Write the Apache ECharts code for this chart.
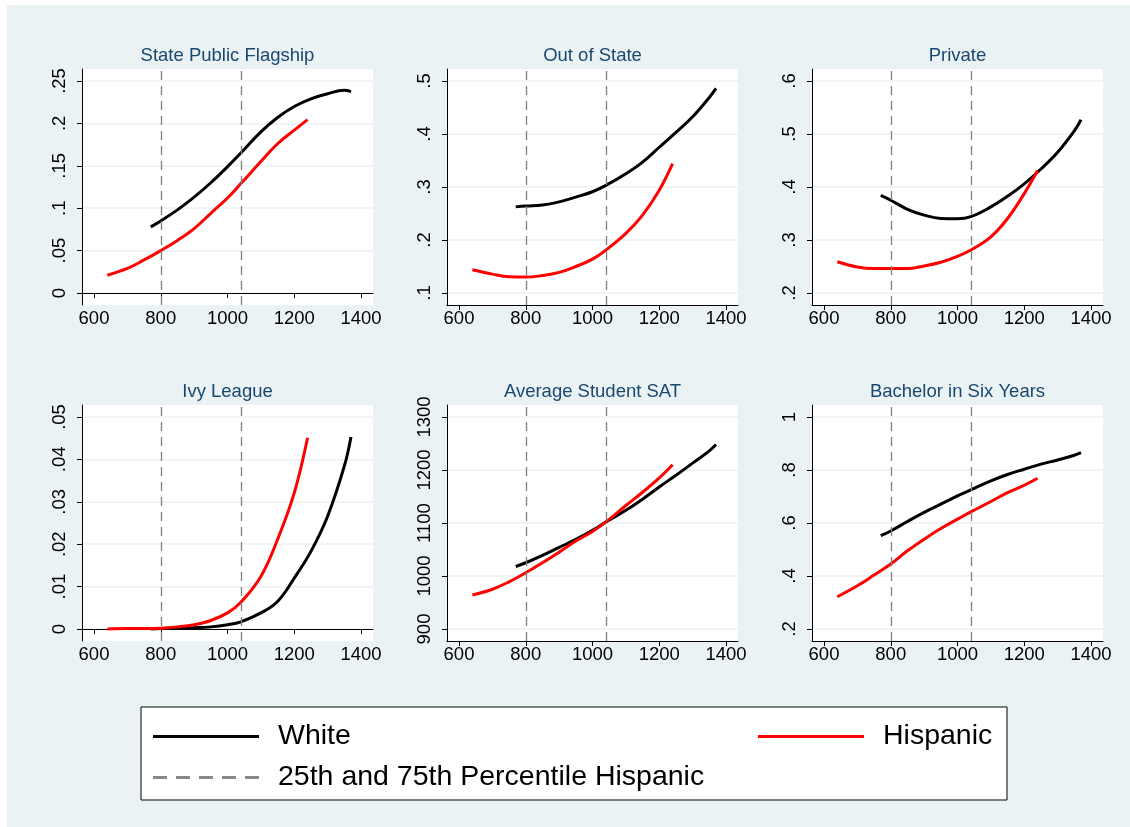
<!DOCTYPE html>
<html>
<head>
<meta charset="utf-8">
<script src="https://cdn.jsdelivr.net/npm/echarts@6/dist/echarts.min.js"></script>
<style>
  html, body { margin: 0; padding: 0; background: #fff; }
  #bg { position: absolute; left: 7px; top: 5px; right: 0; bottom: 0; background: #EAF2F3; }
  #chart { position: absolute; left: 0; top: 0; width: 1130px; height: 827px; }
</style>
</head>
<body>
<div id="bg"></div>
<div id="chart"></div>
<script>
// SAT score grid for each group
const whiteX = [770, 800, 850, 900, 950, 1000, 1040, 1100, 1150, 1200, 1250, 1300, 1350, 1370];
const hispX = [640, 700, 750, 800, 850, 900, 950, 1000, 1040, 1100, 1150, 1200, 1240];
const pctX = [800, 1040];
const xTicks = [600, 800, 1000, 1200, 1400];

const titles = ["State Public Flagship", "Out of State", "Private", "Ivy League", "Average Student SAT", "Bachelor in Six Years"];

const flagshipWhite = [0.078, 0.085, 0.098, 0.113, 0.130, 0.149, 0.165, 0.190, 0.207, 0.220, 0.229, 0.235, 0.239, 0.2375];
const flagshipHisp = [0.021, 0.029, 0.039, 0.050, 0.062, 0.076, 0.094, 0.112, 0.129, 0.155, 0.176, 0.192, 0.2045];
const outStateWhite = [0.2625, 0.264, 0.266, 0.272, 0.281, 0.291, 0.303, 0.325, 0.347, 0.375, 0.403, 0.4325, 0.469, 0.486];
const outStateHisp = [0.144, 0.1356, 0.1306, 0.130, 0.133, 0.139, 0.150, 0.164, 0.181, 0.2125, 0.247, 0.294, 0.344];
const privateWhite = [0.384, 0.375, 0.358, 0.347, 0.3406, 0.340, 0.344, 0.3625, 0.3825, 0.406, 0.434, 0.4656, 0.506, 0.527];
const privateHisp = [0.259, 0.249, 0.246, 0.246, 0.246, 0.251, 0.258, 0.269, 0.281, 0.306, 0.3406, 0.3875, 0.431];
const ivyWhite = [0, 0.0001, 0.0002, 0.0003, 0.0005, 0.001, 0.0017, 0.0038, 0.0065, 0.012, 0.0183, 0.0266, 0.0384, 0.0453];
const ivyHisp = [0, 0.0001, 0.0001, 0.0002, 0.0005, 0.001, 0.002, 0.0038, 0.0063, 0.0124, 0.0211, 0.0321, 0.0451];
const satWhite = [1018, 1025, 1039, 1054, 1069, 1086, 1102, 1124, 1145, 1168, 1190, 1213, 1236, 1248];
const satHisp = [964, 975, 989, 1006, 1025, 1045, 1066, 1084, 1102, 1133, 1158, 1185, 1210];
const bachWhite = [0.552, 0.570, 0.6057, 0.640, 0.671, 0.7024, 0.725, 0.759, 0.783, 0.803, 0.822, 0.838, 0.8556, 0.8656];
const bachHisp = [0.3218, 0.363, 0.4035, 0.445, 0.495, 0.539, 0.579, 0.6145, 0.642, 0.681, 0.7147, 0.7425, 0.7688];

const flagshipTicks = [0, 0.05, 0.1, 0.15, 0.2, 0.25];
const outStateTicks = [0.1, 0.2, 0.3, 0.4, 0.5];
const privateTicks = [0.2, 0.3, 0.4, 0.5, 0.6];
const ivyTicks = [0, 0.01, 0.02, 0.03, 0.04, 0.05];
const satTicks = [900, 1000, 1100, 1200, 1300];
const bachTicks = [0.2, 0.4, 0.6, 0.8, 1];

const PCT = "25th and 75th Percentile Hispanic";
const FONT = '"Liberation Sans", Arial, sans-serif';
const GRIDLINE = "#EAF2F3";

const panels = [
  { white: flagshipWhite, hisp: flagshipHisp, ticks: flagshipTicks },
  { white: outStateWhite, hisp: outStateHisp, ticks: outStateTicks },
  { white: privateWhite, hisp: privateHisp, ticks: privateTicks },
  { white: ivyWhite, hisp: ivyHisp, ticks: ivyTicks },
  { white: satWhite, hisp: satHisp, ticks: satTicks },
  { white: bachWhite, hisp: bachHisp, ticks: bachTicks },
];

// plot region layout
const colLeft = [82, 447, 812];
const rowTop = [69, 405];
const plotW = 291, plotH = 236, inset = 12;

const zip = (xs, ys) => xs.map((x, i) => [x, ys[i]]);
const trimZero = (v) => String(v).replace(/^0\./, ".");

const chart = echarts.init(document.getElementById("chart"));

const grid = [], xAxis = [], yAxis = [], series = [], title = [];

panels.forEach((p, i) => {
  const left = colLeft[i % 3];
  const top = rowTop[Math.floor(i / 3)];
  grid.push({
    left: left, top: top, width: plotW, height: plotH,
    show: true, backgroundColor: "#fff", borderWidth: 0,
  });

  const xLo = xTicks[0], xHi = xTicks[xTicks.length - 1];
  const xPad = inset * (xHi - xLo) / (plotW - 2 * inset);
  xAxis.push({
    type: "value", gridIndex: i, min: xLo - xPad, max: xHi + xPad,
    axisLine: { show: true, lineStyle: { color: "#000", width: 1 } },
    axisTick: { show: true, length: 5, customValues: xTicks, lineStyle: { color: "#000" } },
    axisLabel: {
      customValues: xTicks, color: "#000", fontSize: 18.5, fontFamily: FONT, margin: 4,
      formatter: (v) => String(v),
    },
    splitLine: { show: false },
  });

  const yLo = p.ticks[0], yHi = p.ticks[p.ticks.length - 1];
  const yPad = inset * (yHi - yLo) / (plotH - 2 * inset);
  yAxis.push({
    type: "value", gridIndex: i, min: yLo - yPad, max: yHi + yPad,
    axisLine: { show: true, lineStyle: { color: "#000", width: 1 } },
    axisTick: { show: true, length: 5, customValues: p.ticks, lineStyle: { color: "#000" } },
    axisLabel: {
      customValues: p.ticks, color: "#000", fontSize: 18.5, fontFamily: FONT,
      rotate: 90, margin: 13, formatter: trimZero,
    },
    splitLine: { show: true, lineStyle: { color: GRIDLINE, width: 1.5 } },
  });

  title.push({
    text: titles[i],
    left: left + plotW / 2, textAlign: "center",
    top: top - 23, padding: 0,
    textStyle: { color: "#1A476F", fontSize: 18.5, fontWeight: "normal", fontFamily: FONT },
  });

  series.push({
    name: PCT, type: "line", xAxisIndex: i, yAxisIndex: i, data: [],
    symbol: "none", z: 2,
    lineStyle: { color: "#888", width: 2.5, type: [10, 7] },
    itemStyle: { color: "#888" },
    markLine: {
      silent: true, symbol: "none", animation: false,
      label: { show: false },
      lineStyle: { color: "#808080", width: 1.3, type: [9, 6] },
      data: pctX.map((v) => ({ xAxis: v })),
    },
  });
  series.push({
    name: "White", type: "line", xAxisIndex: i, yAxisIndex: i,
    data: zip(whiteX, p.white), smooth: 0.4, symbol: "none", z: 3,
    lineStyle: { color: "#000", width: 3 }, itemStyle: { color: "#000" },
  });
  series.push({
    name: "Hispanic", type: "line", xAxisIndex: i, yAxisIndex: i,
    data: zip(hispX, p.hisp), smooth: 0.4, symbol: "none", z: 4,
    lineStyle: { color: "#ff0000", width: 3 }, itemStyle: { color: "#ff0000" },
  });
});

const legendText = { color: "#000", fontSize: 28.5, fontFamily: FONT, lineHeight: 28, padding: [0, 0, 0, 14] };
const dashIcon = "path://M0,0h14v3h-14z M23,0h14v3h-14z M46,0h14v3h-14z M69,0h14v3h-14z M92,0h14v3h-14z";

const options = {
  animation: false,
  title: title,
  grid: grid,
  xAxis: xAxis,
  yAxis: yAxis,
  legend: [
    {
      data: [{ name: "White", icon: "rect" }, { name: PCT, icon: dashIcon }],
      orient: "vertical", left: 153, top: 722, padding: 0,
      itemWidth: 106, itemHeight: 3, itemGap: 12, selectedMode: false,
      textStyle: legendText,
    },
    {
      data: [{ name: "Hispanic", icon: "rect" }],
      orient: "vertical", left: 758, top: 722, padding: 0,
      itemWidth: 106, itemHeight: 3, selectedMode: false,
      textStyle: legendText,
    },
  ],
  graphic: [
    {
      type: "rect", z: 0, silent: true,
      shape: { x: 141, y: 707, width: 866, height: 93 },
      style: { fill: "#fff", stroke: "#000", lineWidth: 1 },
    },
  ],
  series: series,
};

chart.setOption(options);
</script>
</body>
</html>
